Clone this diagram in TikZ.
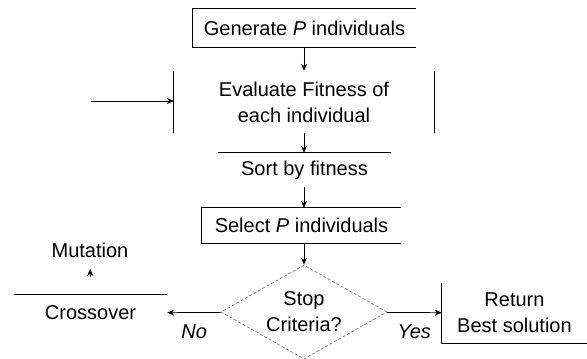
\documentclass[tikz,border=0pt]{standalone}
\usepackage{fontspec}
\setmainfont{Liberation Sans}
\usetikzlibrary{shapes.geometric,arrows.meta}

\begin{document}
\begin{tikzpicture}[x=1pt,y=-1pt,font=\fontsize{20}{26}\selectfont]
        \tikzstyle{stage} = [rectangle, inner sep=0pt, align=center, text centered]
        \tikzstyle{decision} = [diamond, inner sep=0pt, aspect=1.77, minimum width=166pt, minimum height=94pt, align=center, draw=gray, densely dashed, line width=0.7pt]
        \tikzstyle{frame} = [line width=1.2pt]
        \tikzstyle{arrow} = [line width=0.7pt,-{Stealth[length=7pt,width=6pt]}]
        \tikzstyle{lbl} = [font=\fontsize{20}{26}\selectfont\itshape, below=9pt]
        \useasboundingbox (0,0) rectangle (587,359);
        \clip (0,0) rectangle (587,359);
        % main loop
        \node (gen) [stage, minimum width=223pt, minimum height=38pt] at (304.5, 28) {Generate \textit{P} individuals};
        \node (eval) [stage, minimum width=260pt, minimum height=62pt] at (304, 102) {Evaluate Fitness of\\each individual};
        \node (sort) [stage, minimum width=173pt, minimum height=34pt] at (304.5, 170) {Sort by fitness};
        \node (sel) [stage, minimum width=199pt, minimum height=35pt] at (301.5, 225.5) {Select \textit{P} individuals};
        \node (crit) [decision] at (304, 312) {Stop\\Criteria?};
        \node (cross) [stage, minimum width=153pt, minimum height=36pt] at (90.5, 313) {Crossover};
        \node (mut) at (90, 250) {Mutation};
        \node (ret) [stage, minimum width=145pt, minimum height=60pt] at (514.5, 313) {Return\\Best solution};
        \coordinate (loop) at (91, 101);
        % open outlines, right sides left out
        \draw[frame] (gen.north east) -- (gen.north west) -- (gen.south west) -- (gen.south east);
        \draw[frame] (eval.north west) -- (eval.south west);
        \draw[frame] (eval.north east) -- (eval.south east);
        \draw[frame] (sort.north west) -- (sort.north east);
        \draw[frame] (sel.north east) -- (sel.north west) -- (sel.south west) -- (sel.south east);
        \draw[frame] (cross.north west) -- (cross.north east);
        \draw[frame] (ret.north west) -- (ret.south west) -- (ret.south east);
        % arrows
        \draw[arrow] (gen.south -| eval.north) -- (eval.north);
        \draw[arrow] (eval) to (sort.north -| eval.south);
        \draw[arrow] (sort.south -| eval.south) -- (sel.north -| eval.south);
        \draw[arrow] (sel.south -| crit.north) -- (crit.north);
        \draw[arrow] (crit) -- node[lbl] {No} (cross);
        \draw[arrow] (crit) -- node[lbl] {Yes} (ret);
        \draw[arrow, shorten <=18pt, shorten >=8pt] (cross.north) -- (mut.south);
        \draw[arrow] (loop) -- (loop -| eval.west);
    \end{tikzpicture}
\end{document}
